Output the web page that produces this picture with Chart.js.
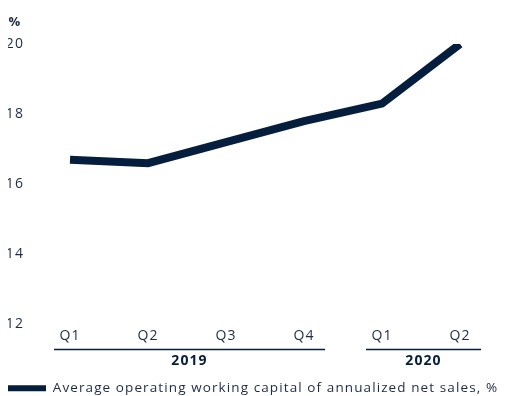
<!DOCTYPE html>
<html><head><meta charset="utf-8">
<script src="https://cdn.jsdelivr.net/npm/chart.js@4"></script>
<style>html,body{margin:0;padding:0;background:#fff;}#wrap{width:510px;height:396px;}</style>
</head><body><div id="wrap"><canvas id="c"></canvas></div>
<script>
const quarters = ['Q1','Q2','Q3','Q4','Q1','Q2'];
const years = ['2019','2019','2019','2019','2020','2020'];
const values = [16.7, 16.6, 17.2, 17.8, 18.3, 20.0];
const yTicks = [12, 14, 16, 18, 20];
const unitLabel = '%';
const seriesName = 'Average operating working capital of annualized net sales, %';
const NAVY = '#061e3d';
const TXT = '#1d2b45';
const FONT = 'Open Sans';

const spacingPlugin = {
  id: 'spacing',
  beforeDraw(chart) { chart.ctx.letterSpacing = '1.1px'; }
};

const groupPlugin = {
  id: 'groups',
  afterDraw(chart) {
    const ctx = chart.ctx, xs = chart.scales.x, ca = chart.chartArea;
    const groups = [];
    years.forEach((y, i) => {
      const g = groups.find(g => g.year === y);
      if (g) g.last = i; else groups.push({year: y, first: i, last: i});
    });
    ctx.save();
    groups.forEach(g => {
      const x0 = xs.getPixelForValue(g.first) - 16;
      const x1 = xs.getPixelForValue(g.last) + 21;
      const yLine = ca.bottom + 25;
      ctx.strokeStyle = NAVY; ctx.lineWidth = 1.5;
      ctx.beginPath(); ctx.moveTo(x0, yLine); ctx.lineTo(x1, yLine); ctx.stroke();
      ctx.fillStyle = NAVY; ctx.font = 'bold 14px ' + FONT;
      ctx.textAlign = 'center'; ctx.textBaseline = 'middle';
      ctx.fillText(g.year, (x0 + x1) / 2, yLine + 12);
    });
    ctx.fillStyle = TXT; ctx.font = 'bold 13px ' + FONT;
    ctx.textAlign = 'center'; ctx.textBaseline = 'middle';
    ctx.fillText(unitLabel, 15, 22);
    ctx.restore();
  }
};

new Chart(document.getElementById('c'), {
  type: 'line',
  data: {
    labels: quarters,
    datasets: [{
      label: seriesName,
      data: values,
      borderColor: NAVY,
      backgroundColor: NAVY,
      borderWidth: 8,
      pointRadius: 0,
      tension: 0,
      borderCapStyle: 'butt',
      borderJoinStyle: 'miter'
    }]
  },
  options: {
    responsive: true,
    maintainAspectRatio: false,
    animation: false,
    layout: { padding: { left: 8, right: 11, top: 44, bottom: -9 } },
    plugins: {
      legend: { position: 'bottom', align: 'start',
        labels: { color: TXT, font: { family: FONT, size: 13.5 }, boxWidth: 38, boxHeight: 6, padding: 0,
          generateLabels(chart) {
            return Chart.defaults.plugins.legend.labels.generateLabels(chart).map(l => Object.assign(l, { lineWidth: 0 }));
          } } },
      tooltip: { enabled: false }
    },
    scales: {
      x: {
        offset: true,
        grid: { display: false, drawTicks: false },
        border: { display: false },
        ticks: { color: TXT, font: { family: FONT, size: 14 }, padding: 3, maxRotation: 0 },
        afterFit(s) { s.height = 57; }
      },
      y: {
        min: 12, max: 20,
        afterBuildTicks(s) { s.ticks = yTicks.map(v => ({ value: v })); },
        grid: { display: false, drawTicks: false },
        border: { display: false },
        ticks: { color: TXT, font: { family: FONT, size: 14 }, padding: 7 },
        afterFit(s) { s.width = 23; }
      }
    }
  },
  plugins: [spacingPlugin, groupPlugin]
});
</script></body></html>
